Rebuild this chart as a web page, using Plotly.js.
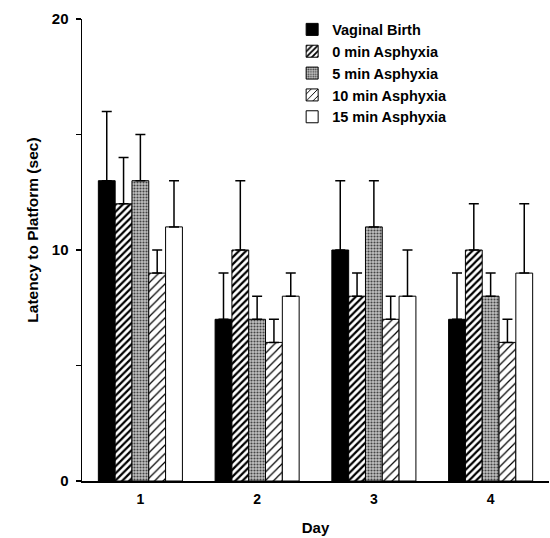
<!DOCTYPE html>
<html>
<head>
<meta charset="utf-8">
<script src="https://cdn.plot.ly/plotly-3.0.1.min.js"></script>
<style>html,body{margin:0;padding:0;background:#fff;}#chart{width:550px;height:538px;}</style>
</head>
<body>
<div id="chart"></div>
<script>
const days = ["1", "2", "3", "4"];
const seriesNames = ["Vaginal Birth", "0 min Asphyxia", "5 min Asphyxia", "10 min Asphyxia", "15 min Asphyxia"];
const vaginalBirth = [13, 7, 10, 7];
const asphyxia0 = [12, 10, 8, 10];
const asphyxia5 = [13, 7, 11, 8];
const asphyxia10 = [9, 6, 7, 6];
const asphyxia15 = [11, 8, 8, 9];
const errVaginalBirth = [3, 2, 3, 2];
const errAsphyxia0 = [2, 3, 1, 2];
const errAsphyxia5 = [2, 1, 2, 1];
const errAsphyxia10 = [1, 1, 1, 1];
const errAsphyxia15 = [2, 1, 2, 3];
const yTickVals = [0, 5, 10, 15, 20];
const yTickText = ["0", "", "10", "", "20"];

const values = [vaginalBirth, asphyxia0, asphyxia5, asphyxia10, asphyxia15];
const errs = [errVaginalBirth, errAsphyxia0, errAsphyxia5, errAsphyxia10, errAsphyxia15];
const styles = [
  {color: "#000000", pattern: {shape: ""}},
  {color: "#ffffff", pattern: {shape: "/", fgcolor: "#000000", bgcolor: "#ffffff", size: 5, solidity: 0.45, fillmode: "replace"}},
  {color: "#ffffff", pattern: {shape: ".", fgcolor: "#444444", bgcolor: "#c0c0c0", size: 3, solidity: 0.4, fillmode: "replace"}},
  {color: "#ffffff", pattern: {shape: "/", fgcolor: "#000000", bgcolor: "#ffffff", size: 6, solidity: 0.2, fillmode: "replace"}},
  {color: "#ffffff", pattern: {shape: ""}}
];
const fam = "Liberation Sans, Arial, sans-serif";
const font = {family: fam, size: 15, color: "#000", weight: "bold"};
const legendFont = {family: fam, size: 14.5, color: "#000", weight: "bold"};

const traces = seriesNames.map((name, i) => ({
  type: "bar",
  name: name,
  x: days,
  y: values[i],
  marker: {color: styles[i].color, pattern: styles[i].pattern, line: {color: "#000", width: 1}},
  error_y: {type: "data", symmetric: false, array: errs[i], arrayminus: days.map(() => 0), color: "#000", thickness: 1.5, width: 5}
}));

const layout = {
  width: 550, height: 538,
  margin: {l: 82, r: 1, t: 19, b: 57},
  paper_bgcolor: "#fff", plot_bgcolor: "#fff",
  font: font,
  barmode: "group",
  bargap: 0.28,
  bargroupgap: 0,
  showlegend: true,
  legend: {x: 0.45, y: 1.012, xanchor: "left", yanchor: "top", bgcolor: "rgba(0,0,0,0)", font: legendFont, tracegroupgap: 0},
  xaxis: {
    type: "category", range: [-0.5, 3.5],
    showline: true, linecolor: "#000", linewidth: 1.5, showgrid: false, zeroline: false,
    ticks: "", ticklabelstandoff: 5, tickfont: {family: fam, size: 14, color: "#000", weight: "bold"},
    title: {text: "Day", font: {family: fam, size: 15, color: "#000", weight: "bold"}, standoff: 16}
  },
  yaxis: {
    range: [0, 20],
    showline: true, linecolor: "#000", linewidth: 1.5, showgrid: false, zeroline: false,
    tickvals: yTickVals, ticktext: yTickText, ticks: "outside", ticklen: 5, tickwidth: 1.5, tickcolor: "#000",
    ticklabelstandoff: 4, tickfont: font
  },
  annotations: [{
    text: "Latency to Platform (sec)", textangle: -90,
    xref: "paper", yref: "paper", x: -0.105, y: 0.544, xanchor: "center", yanchor: "middle",
    showarrow: false, font: {family: fam, size: 15.5, color: "#000", weight: "bold"}
  }]
};

Plotly.newPlot("chart", traces, layout, {staticPlot: true, displayModeBar: false});
</script>
</body>
</html>
